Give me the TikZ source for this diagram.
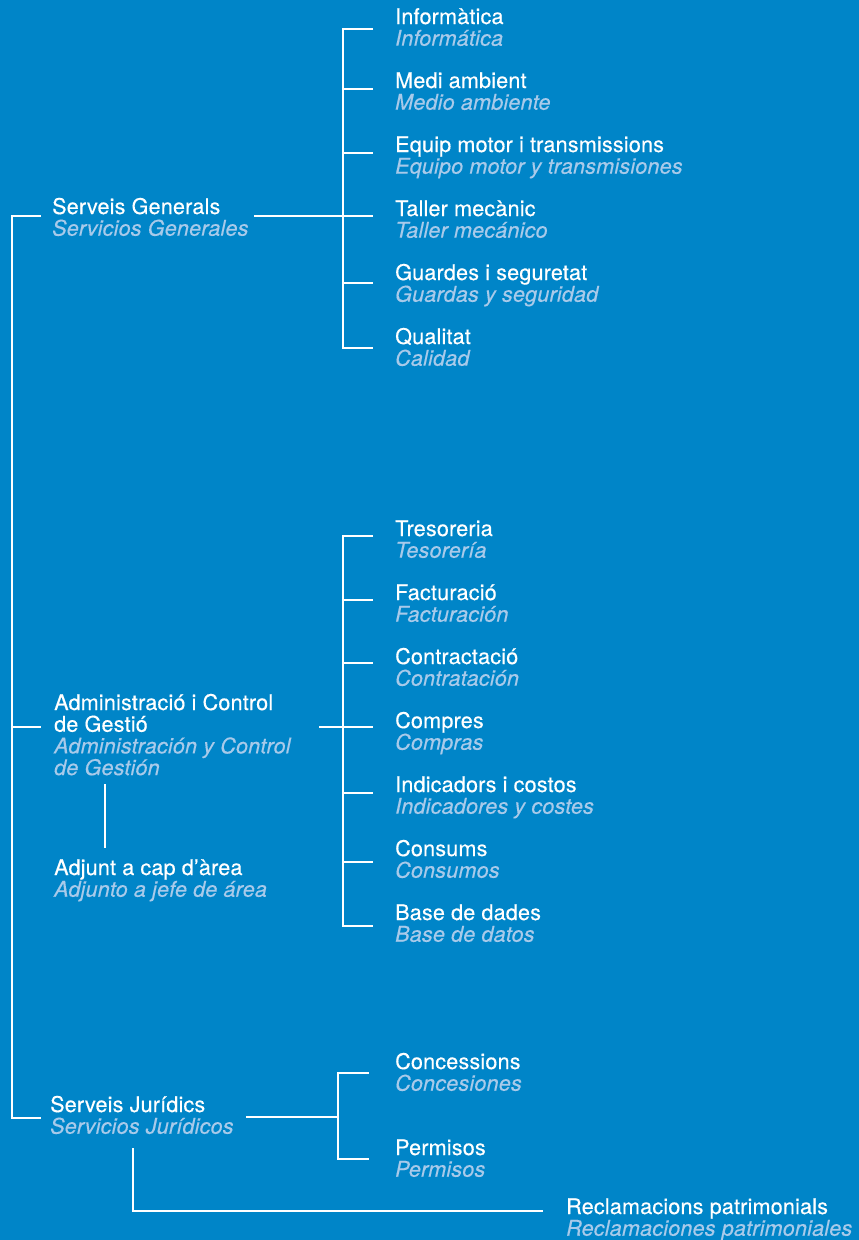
\documentclass[tikz,border=0pt]{standalone}
\usepackage{fontspec}
\setmainfont{TeX Gyre Heros}[FakeBold=0.35, LetterSpace=0.8]
\usepackage{tikz}
\definecolor{areablue}{RGB}{0,133,200}
\definecolor{castlight}{RGB}{168,202,234}
\def\deptfont{\fontsize{21.6}{21.7}\selectfont}
\def\cast#1{{\color{castlight}\itshape #1}}
\tikzset{
	dept/.style={anchor=base west, inner sep=0pt, align=left, text=white, font=\deptfont, yshift=-21.7pt},
	dept4/.style={dept, yshift=-43.4pt},
	link/.style={draw=white, line width=2.8pt},
}

\begin{document}
\begin{tikzpicture}[x=1pt, y=-1pt]
		%%%%% START %%%%%
		
		\fill[areablue] (0, 0) rectangle (859, 1240);
		\useasboundingbox (0, 0) rectangle (859, 1240);
		
		%% first level
		\node[dept] (sg) at (52, 214) {Serveis Generals\\\cast{Servicios Generales}};
		\node[dept4] (adm) at (54, 710) {Administració i Control\\de Gestió\\\cast{Administración y Control}\\\cast{de Gestión}};
		\node[dept] (adj) at (54, 875) {Adjunt a cap d’àrea\\\cast{Adjunto a jefe de área}};
		\node[dept] (sj) at (50, 1112) {Serveis Jurídics\\\cast{Servicios Jurídicos}};
		
		\coordinate (root) at (12, 216);
		\coordinate (sg-l) at (41, 216);
		\coordinate (adm-l) at (41, 727);
		\coordinate (sj-l) at (41, 1118);
		
		\draw[link] (sg-l) -- (root) -- (root |- sj-l) -- (sj-l);
		\draw[link] (root |- adm-l) -- (adm-l);
		
		%% Serveis Generals
		\node[dept] (inf) at (395, 24) {Informàtica\\\cast{Informática}};
		\node[dept] (med) at (395, 88) {Medi ambient\\\cast{Medio ambiente}};
		\node[dept] (eqp) at (395, 152) {Equip motor i transmissions\\\cast{Equipo motor y transmisiones}};
		\node[dept] (tal) at (395, 216) {Taller mecànic\\\cast{Taller mecánico}};
		\node[dept] (gua) at (395, 280) {Guardes i seguretat\\\cast{Guardas y seguridad}};
		\node[dept] (qua) at (395, 344) {Qualitat\\\cast{Calidad}};
		
		\coordinate (sg-r) at (254, 216);
		\coordinate (sg-bus) at (343, 216);
		\coordinate (inf-in) at (373, 29);
		\coordinate (med-in) at (373, 89);
		\coordinate (eqp-in) at (373, 153);
		\coordinate (tal-in) at (373, 216);
		\coordinate (gua-in) at (373, 283);
		\coordinate (qua-in) at (373, 348);
		
		\draw[link] (sg-r) -- (sg-bus);
		\draw[link] (inf-in) -- (sg-bus |- inf-in) -- (sg-bus |- qua-in) -- (qua-in);
		\draw[link] (sg-bus |- med-in) -- (med-in);
		\draw[link] (sg-bus |- eqp-in) -- (eqp-in);
		\draw[link] (sg-bus) -- (tal-in);
		\draw[link] (sg-bus |- gua-in) -- (gua-in);
		
		%% Administracio i Control de Gestio
		\node[dept] (tre) at (395, 536) {Tresoreria\\\cast{Tesorería}};
		\node[dept] (fac) at (395, 600) {Facturació\\\cast{Facturación}};
		\node[dept] (ctr) at (395, 664) {Contractació\\\cast{Contratación}};
		\node[dept] (cmp) at (395, 728) {Compres\\\cast{Compras}};
		\node[dept] (ind) at (395, 792) {Indicadors i costos\\\cast{Indicadores y costes}};
		\node[dept] (cns) at (395, 856) {Consums\\\cast{Consumos}};
		\node[dept] (bdd) at (395, 920) {Base de dades\\\cast{Base de datos}};
		
		\coordinate (adm-r) at (319, 727);
		\coordinate (adm-bus) at (343, 727);
		\coordinate (tre-in) at (373, 536);
		\coordinate (fac-in) at (373, 600);
		\coordinate (ctr-in) at (373, 663);
		\coordinate (cmp-in) at (373, 727);
		\coordinate (ind-in) at (373, 793);
		\coordinate (cns-in) at (373, 862);
		\coordinate (bdd-in) at (373, 926);
		
		\draw[link] (adm-r) -- (adm-bus);
		\draw[link] (tre-in) -- (adm-bus |- tre-in) -- (adm-bus |- bdd-in) -- (bdd-in);
		\draw[link] (adm-bus |- fac-in) -- (fac-in);
		\draw[link] (adm-bus |- ctr-in) -- (ctr-in);
		\draw[link] (adm-bus) -- (cmp-in);
		\draw[link] (adm-bus |- ind-in) -- (ind-in);
		\draw[link] (adm-bus |- cns-in) -- (cns-in);
		
		\coordinate (adm-b) at (105, 784);
		\coordinate (adj-t) at (105, 848);
		\draw[link] (adm-b) -- (adj-t);
		
		%% Serveis Juridics
		\node[dept] (cnc) at (395, 1069) {Concessions\\\cast{Concesiones}};
		\node[dept] (per) at (395, 1155) {Permisos\\\cast{Permisos}};
		\node[dept] (rec) at (566, 1214) {Reclamacions patrimonials\\\cast{Reclamaciones patrimoniales}};
		
		\coordinate (sj-r) at (246, 1117);
		\coordinate (sj-bus) at (338, 1117);
		\coordinate (cnc-in) at (369, 1073);
		\coordinate (per-in) at (369, 1159);
		\coordinate (sj-b) at (133, 1148);
		\coordinate (rec-in) at (543, 1211);
		
		\draw[link] (sj-r) -- (sj-bus);
		\draw[link] (cnc-in) -- (sj-bus |- cnc-in) -- (sj-bus |- per-in) -- (per-in);
		\draw[link] (sj-b) -- (sj-b |- rec-in) -- (rec-in);
		
		%%%%% END %%%%%
	\end{tikzpicture}
\end{document}
